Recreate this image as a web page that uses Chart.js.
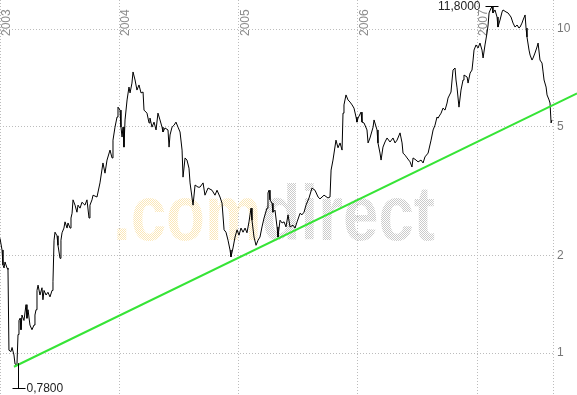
<!DOCTYPE html>
<html>
<head>
<meta charset="utf-8">
<script src="https://cdn.jsdelivr.net/npm/chart.js@4.4.7/dist/chart.umd.min.js"></script>
<style>
  html, body { margin: 0; padding: 0; background: #fff; }
  canvas { display: block; }
</style>
</head>
<body>
<canvas id="chart" width="577" height="395"></canvas>
<script>
// Daily closing prices (decimal years / price)
const dates = [
  2003.000, 2003.017, 2003.025, 2003.034, 2003.042, 2003.059, 2003.067, 2003.075, 2003.092, 2003.101,
  2003.117, 2003.126, 2003.142, 2003.151, 2003.159, 2003.168, 2003.176, 2003.184, 2003.201, 2003.218,
  2003.226, 2003.235, 2003.251, 2003.268, 2003.285, 2003.293, 2003.302, 2003.310, 2003.319, 2003.335,
  2003.352, 2003.360, 2003.369, 2003.386, 2003.402, 2003.419, 2003.436, 2003.444, 2003.453, 2003.461,
  2003.478, 2003.486, 2003.503, 2003.511, 2003.520, 2003.536, 2003.545, 2003.562, 2003.570, 2003.587,
  2003.595, 2003.604, 2003.612, 2003.629, 2003.645, 2003.654, 2003.671, 2003.687, 2003.712, 2003.729,
  2003.746, 2003.754, 2003.771, 2003.780, 2003.813, 2003.838, 2003.863, 2003.880, 2003.897, 2003.922,
  2003.939, 2003.947, 2003.964, 2003.981, 2003.989, 2004.006, 2004.014, 2004.023, 2004.031, 2004.039,
  2004.048, 2004.065, 2004.081, 2004.090, 2004.106, 2004.115, 2004.132, 2004.148, 2004.165, 2004.182,
  2004.199, 2004.207, 2004.232, 2004.249, 2004.257, 2004.274, 2004.291, 2004.308, 2004.324, 2004.341,
  2004.358, 2004.366, 2004.383, 2004.408, 2004.417, 2004.425, 2004.442, 2004.459, 2004.475, 2004.492,
  2004.509, 2004.526, 2004.534, 2004.551, 2004.567, 2004.584, 2004.593, 2004.618, 2004.635, 2004.660,
  2004.676, 2004.702, 2004.718, 2004.744, 2004.777, 2004.802, 2004.819, 2004.844, 2004.861, 2004.878,
  2004.894, 2004.911, 2004.928, 2004.936, 2004.953, 2004.970, 2004.987, 2005.003, 2005.020, 2005.037,
  2005.054, 2005.070, 2005.087, 2005.104, 2005.112, 2005.129, 2005.146, 2005.163, 2005.179, 2005.196,
  2005.213, 2005.238, 2005.246, 2005.255, 2005.263, 2005.280, 2005.288, 2005.305, 2005.322, 2005.330,
  2005.347, 2005.364, 2005.381, 2005.397, 2005.414, 2005.431, 2005.456, 2005.473, 2005.490, 2005.515,
  2005.531, 2005.548, 2005.565, 2005.590, 2005.615, 2005.640, 2005.666, 2005.682, 2005.716, 2005.749,
  2005.766, 2005.775, 2005.791, 2005.816, 2005.833, 2005.850, 2005.867, 2005.875, 2005.883, 2005.900,
  2005.917, 2005.934, 2005.951, 2005.967, 2005.984, 2005.992, 2006.001, 2006.026, 2006.034, 2006.051,
  2006.076, 2006.085, 2006.101, 2006.127, 2006.135, 2006.160, 2006.168, 2006.185, 2006.194, 2006.210,
  2006.227, 2006.244, 2006.269, 2006.294, 2006.311, 2006.328, 2006.353, 2006.370, 2006.378, 2006.395,
  2006.412, 2006.437, 2006.453, 2006.462, 2006.487, 2006.504, 2006.529, 2006.546, 2006.562, 2006.588,
  2006.613, 2006.630, 2006.646, 2006.663, 2006.671, 2006.697, 2006.713, 2006.730, 2006.747, 2006.755,
  2006.780, 2006.789, 2006.797, 2006.814, 2006.822, 2006.831, 2006.847, 2006.864, 2006.881, 2006.889,
  2006.915, 2006.923, 2006.940, 2006.956, 2006.965, 2006.973, 2006.990, 2007.007, 2007.023, 2007.040,
  2007.049, 2007.065, 2007.082, 2007.091, 2007.099, 2007.116, 2007.124, 2007.132, 2007.149, 2007.166,
  2007.174, 2007.191, 2007.208, 2007.216, 2007.241, 2007.258, 2007.283, 2007.300, 2007.317, 2007.334,
  2007.350, 2007.359, 2007.375, 2007.384, 2007.401, 2007.409, 2007.417, 2007.434, 2007.443, 2007.459,
  2007.468, 2007.484, 2007.501, 2007.510, 2007.526, 2007.543, 2007.552, 2007.560, 2007.577, 2007.585,
  2007.602, 2007.610, 2007.619, 2007.627,
];
const prices = [
  2.26, 2.08, 1.87, 1.83, 1.91, 1.83, 1.81, 1.02, 1.01, 1.04,
  0.986, 0.925, 0.918, 1.14, 1.26, 1.28, 1.18, 1.31, 1.26, 1.41,
  1.28, 1.36, 1.22, 1.18, 1.22, 1.31, 1.36, 1.56, 1.62, 1.51,
  1.59, 1.46, 1.56, 1.51, 1.54, 1.49, 1.56, 1.66, 2.23, 2.36,
  2.30, 2.15, 1.96, 2.23, 2.35, 2.43, 2.54, 2.43, 2.52, 2.43,
  2.61, 2.70, 2.97, 2.86, 2.72, 2.86, 2.80, 2.92, 2.86, 2.97,
  2.61, 2.86, 2.97, 3.07, 3.03, 3.35, 3.86, 3.59, 3.94, 4.23,
  4.00, 4.54, 4.98, 5.35, 5.74, 5.62, 4.98, 4.64, 4.98, 4.32,
  5.24, 6.04, 6.62, 6.35, 6.81, 7.37, 6.96, 6.48, 6.72, 6.35,
  6.39, 5.62, 5.50, 5.13, 5.31, 4.98, 5.16, 4.88, 5.50, 5.24,
  4.98, 4.81, 4.95, 4.88, 4.32, 4.71, 4.98, 5.05, 5.16, 4.98,
  4.81, 4.23, 3.49, 4.00, 3.94, 3.72, 3.35, 2.86, 3.30, 3.25,
  3.25, 3.35, 3.07, 3.23, 3.18, 3.07, 3.18, 3.03, 2.90, 2.40,
  2.36, 2.23, 2.08, 1.98, 2.11, 2.28, 2.40, 2.31, 2.43, 2.36,
  2.43, 2.35, 2.54, 2.80, 2.57, 2.28, 2.15, 2.23, 2.28, 2.45,
  2.61, 2.80, 3.12, 3.18, 2.97, 2.90, 2.72, 2.76, 2.45, 2.28,
  2.57, 2.52, 2.54, 2.45, 2.67, 2.45, 2.48, 2.43, 2.54, 2.70,
  2.67, 2.72, 2.86, 3.01, 3.23, 3.18, 3.03, 2.99, 3.07, 3.01,
  3.03, 3.67, 3.94, 4.54, 4.30, 4.45, 4.23, 5.50, 5.83, 6.26,
  6.04, 5.95, 5.83, 5.70, 5.35, 5.16, 5.31, 5.54, 5.16, 5.13,
  4.88, 4.45, 4.61, 4.98, 5.24, 4.88, 4.45, 4.14, 3.94, 4.32,
  4.48, 4.61, 4.48, 4.61, 4.45, 4.54, 4.78, 4.45, 4.14, 4.08,
  4.00, 3.89, 3.75, 4.00, 3.94, 3.89, 3.94, 3.86, 4.03, 4.14,
  4.54, 4.88, 5.05, 5.35, 5.31, 5.50, 5.70, 5.62, 5.91, 6.12,
  6.39, 6.96, 7.47, 7.58, 6.96, 6.58, 5.74, 6.48, 6.96, 7.21,
  7.11, 6.81, 7.31, 7.47, 8.02, 8.61, 8.93, 8.74, 9.05, 8.61,
  8.14, 8.93, 9.72, 10.29, 11.21, 11.61, 11.69, 11.21, 11.45, 10.89,
  10.14, 10.66, 11.29, 11.45, 11.29, 11.21, 10.89, 10.43, 10.14, 10.29,
  10.07, 10.14, 10.43, 10.66, 11.05, 10.07, 9.45, 8.61, 8.31, 8.02,
  8.14, 8.43, 8.80, 9.05, 8.02, 7.85, 7.37, 6.96, 6.62, 6.26,
  6.04, 5.91, 5.13, 5.24,
];

// Trend line, its two ends
const trendDates = [2003.117, 2007.837];
const trendValues = [0.907, 6.33];

const yearTicks = [2003, 2004, 2005, 2006, 2007];
const priceTicks = [1, 2, 5, 10];
const dateRange = [2003, 2007.635];
const priceRange = [0.742, 12.29];

const highMark = { date: 2007.116, value: 11.8, lineValue: 11.61, label: "11,8000" };
const lowMark = { date: 2003.151, value: 0.78, lineValue: 0.93, label: "0,7800" };

const FONT = '"Liberation Sans", Arial, sans-serif';
const GRID = "#bcbcbc";

// Checkerboard of single pixels, as the watermark is drawn dotted.
function dotPattern(ctx, color) {
  const tile = document.createElement("canvas");
  tile.width = 2;
  tile.height = 2;
  const t = tile.getContext("2d");
  t.fillStyle = color;
  t.fillRect(0, 0, 1, 1);
  t.fillRect(1, 1, 1, 1);
  return ctx.createPattern(tile, "repeat");
}

function drawWatermark(ctx, area) {
  const layer = document.createElement("canvas");
  layer.width = ctx.canvas.width;
  layer.height = ctx.canvas.height;
  const l = layer.getContext("2d");
  l.font = "bold 77px " + FONT;
  const full = l.measureText(".comdirect").width;
  const head = l.measureText(".com").width;
  const sx = 322 / full;

  [[".com", 0, "#fbe7b8"], ["direct", head, "#cacaca"]].forEach(([text, offset, color]) => {
    l.clearRect(0, 0, layer.width, layer.height);
    l.globalCompositeOperation = "source-over";
    l.setTransform(sx, 0, 0, 1, area.left + 113, area.top + 240);
    l.fillStyle = "#000";
    l.fillText(text, offset, 0);
    l.setTransform(1, 0, 0, 1, 0, 0);
    l.globalCompositeOperation = "source-in";
    l.fillStyle = dotPattern(l, color);
    l.fillRect(0, 0, layer.width, layer.height);
    ctx.drawImage(layer, 0, 0);
  });
}

function drawMark(ctx, x, y, yLine, label, textLeft) {
  const px = Math.round(x) + 0.5;
  const py = Math.round(y) + 0.5;
  ctx.beginPath();
  ctx.moveTo(px, yLine);
  ctx.lineTo(px, py);
  ctx.moveTo(px - 6, py);
  ctx.lineTo(px + 7, py);
  ctx.stroke();
  ctx.textAlign = textLeft ? "right" : "left";
  ctx.fillText(label, textLeft ? px - 11 : px + 8, py);
}

const decorations = {
  id: "decorations",
  beforeDatasetsDraw(chart) {
    const { ctx, chartArea, scales } = chart;
    drawWatermark(ctx, chartArea);

    // year labels, rotated, next to each year line
    ctx.save();
    ctx.font = "12px " + FONT;
    ctx.fillStyle = "#8c8c8c";
    ctx.textAlign = "left";
    ctx.textBaseline = "alphabetic";
    yearTicks.forEach((year) => {
      const x = scales.x.getPixelForValue(year);
      ctx.save();
      ctx.translate(x + 10, chartArea.top + 36);
      ctx.rotate(-Math.PI / 2);
      ctx.fillText(String(year), 0, 0);
      ctx.restore();
    });
    ctx.restore();
  },
  afterDatasetsDraw(chart) {
    const { ctx, scales } = chart;
    ctx.save();
    ctx.strokeStyle = "#000";
    ctx.lineWidth = 1;
    ctx.fillStyle = "#222";
    ctx.font = "12px " + FONT;
    ctx.textBaseline = "middle";
    [highMark, lowMark].forEach((mark) => {
      drawMark(
        ctx,
        scales.x.getPixelForValue(mark.date),
        scales.y.getPixelForValue(mark.value),
        scales.y.getPixelForValue(mark.lineValue),
        mark.label,
        mark === highMark,
      );
    });
    ctx.restore();
  },
};

new Chart(document.getElementById("chart"), {
  type: "line",
  data: {
    datasets: [
      {
        label: "Trend",
        data: trendDates.map((d, i) => ({ x: d, y: trendValues[i] })),
        borderColor: "#36e436",
        borderWidth: 2,
        pointRadius: 0,
        clip: false,
      },
      {
        label: "Kurs",
        data: dates.map((d, i) => ({ x: d, y: prices[i] })),
        borderColor: "#000",
        borderWidth: 1,
        pointRadius: 0,
        tension: 0,
      },
    ],
  },
  options: {
    responsive: false,
    animation: false,
    devicePixelRatio: 1,
    layout: { padding: 0 },
    plugins: { legend: { display: false }, tooltip: { enabled: false } },
    scales: {
      x: {
        type: "linear",
        bounds: "data",
        min: dateRange[0],
        max: dateRange[1],
        afterBuildTicks: (scale) => {
          scale.ticks = [...yearTicks, dateRange[1]].map((value) => ({ value }));
        },
        afterFit: (scale) => {
          scale.height = 0;
          scale.paddingLeft = 0;
          scale.paddingRight = 0;
        },
        ticks: { display: false },
        grid: { color: GRID, drawTicks: false },
        border: { display: false, dash: [1, 2] },
      },
      y: {
        type: "logarithmic",
        bounds: "data",
        position: "right",
        min: priceRange[0],
        max: priceRange[1],
        afterBuildTicks: (scale) => {
          scale.ticks = priceTicks.map((value) => ({ value }));
        },
        afterFit: (scale) => {
          scale.width = 24;
          scale.paddingTop = 0;
          scale.paddingBottom = 0;
        },
        ticks: {
          callback: (value) => String(value),
          color: "#777",
          font: { size: 12, family: FONT },
          padding: 4,
        },
        grid: { color: GRID, drawTicks: false },
        border: { display: false, dash: [1, 2] },
      },
    },
  },
  plugins: [decorations],
});
</script>
</body>
</html>
